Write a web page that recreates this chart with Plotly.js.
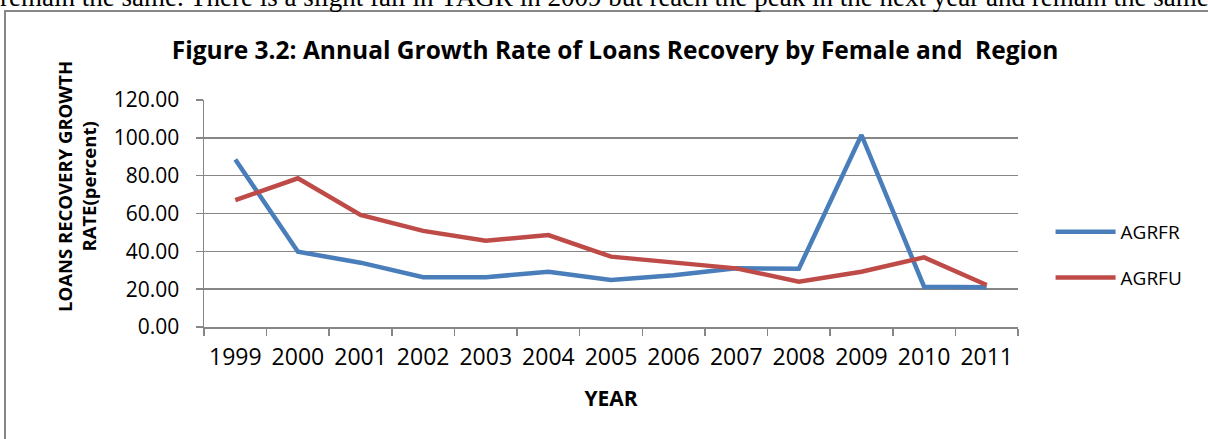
<!DOCTYPE html>
<html>
<head>
<meta charset="utf-8">
<script src="https://cdn.plot.ly/plotly-3.0.1.min.js"></script>
<style>
html,body{margin:0;padding:0;background:#fff;overflow:hidden;width:1208px;height:439px;}
#top{position:absolute;left:0;top:-16px;font-family:"Liberation Serif","Times New Roman",serif;font-size:27px;line-height:27px;white-space:nowrap;color:#000;z-index:2;}
#chart{position:absolute;left:0;top:0;width:1208px;height:439px;}
</style>
</head>
<body>
<div id="chart"></div>
<div id="top">remain the same. There is a slight fall in YAGR in 2009 but reach the peak in the next year and remain the same.</div>
<script>
const years = ['1999','2000','2001','2002','2003','2004','2005','2006','2007','2008','2009','2010','2011'];
const agrfr = [88.6, 39.8, 34.0, 26.3, 26.3, 29.2, 24.8, 27.3, 31.0, 30.8, 101.5, 21.3, 21.0];
const agrfu = [67.1, 78.6, 59.2, 50.8, 45.6, 48.6, 37.2, 34.0, 31.0, 24.0, 29.2, 36.8, 22.2];
const seriesNames = ['AGRFR', 'AGRFU'];
const yTicks = [0, 20, 40, 60, 80, 100, 120];

const font = '"Open Sans", Lato, sans-serif';
const grey = '#868686';

const traces = [
  {x: years, y: agrfr, name: seriesNames[0], type: 'scatter', mode: 'lines',
   line: {color: '#4A7EBB', width: 4.5}, legendgroup: 'a'},
  {x: years, y: agrfu, name: seriesNames[1], type: 'scatter', mode: 'lines',
   line: {color: '#BE4B48', width: 4.5}, legendgroup: 'b'}
];

const layout = {
  width: 1208, height: 439,
  margin: {l: 204, r: 190, t: 100, b: 112},
  paper_bgcolor: '#fff', plot_bgcolor: '#fff',
  font: {family: font, color: '#000', size: 20},
  title: {text: '<b>Figure 3.2: Annual Growth Rate of Loans Recovery by Female and  Region</b>',
          font: {family: font, size: 24.5, color: '#000'},
          x: 0.505, xref: 'paper', xanchor: 'center', y: 1 - 50/439, yref: 'container', yanchor: 'middle'},
  xaxis: {type: 'category', range: [-0.5, 12.5], showline: true, linecolor: grey, linewidth: 1.5,
          ticks: 'outside', tickson: 'boundaries', ticklen: 7, tickcolor: grey, tickwidth: 1.5,
          showgrid: false, zeroline: false, ticklabelstandoff: 9,
          tickfont: {family: font, size: 23},
          title: {text: '<b>YEAR</b>', font: {family: font, size: 21}, standoff: 20}},
  yaxis: {range: [0, 120], tickvals: yTicks, tickformat: '.2f', showline: true, linecolor: grey, linewidth: 1.5,
          ticks: 'outside', ticklen: 7, tickcolor: grey, tickwidth: 1.5,
          showgrid: true, gridcolor: grey, gridwidth: 1.5, zeroline: false, ticklabelstandoff: 12,
          tickfont: {family: font, size: 21}},
  showlegend: true,
  legend: {x: 1.04, xanchor: 'left', y: (327 - 255) / 227, yanchor: 'middle', tracegroupgap: 18,
           itemwidth: 60, font: {family: font, size: 19}, bgcolor: 'rgba(0,0,0,0)'},
  annotations: [
    {text: '<b>LOANS RECOVERY GROWTH<br>RATE(percent)</b>', textangle: -90, xref: 'paper', yref: 'paper',
     x: (76 - 204) / 814, y: (327 - 187) / 227, xanchor: 'center', yanchor: 'middle', showarrow: false,
     font: {family: font, size: 18.5, color: '#000'}}
  ],
  shapes: [
    {type: 'rect', xref: 'paper', yref: 'paper', x0: (5 - 204) / 814, x1: (1215 - 204) / 814,
     y0: (327 - 450) / 227, y1: (327 - 11) / 227, line: {color: grey, width: 2}, layer: 'below'}
  ]
};

Plotly.newPlot('chart', traces, layout, {displayModeBar: false, staticPlot: true});
</script>
</body>
</html>
